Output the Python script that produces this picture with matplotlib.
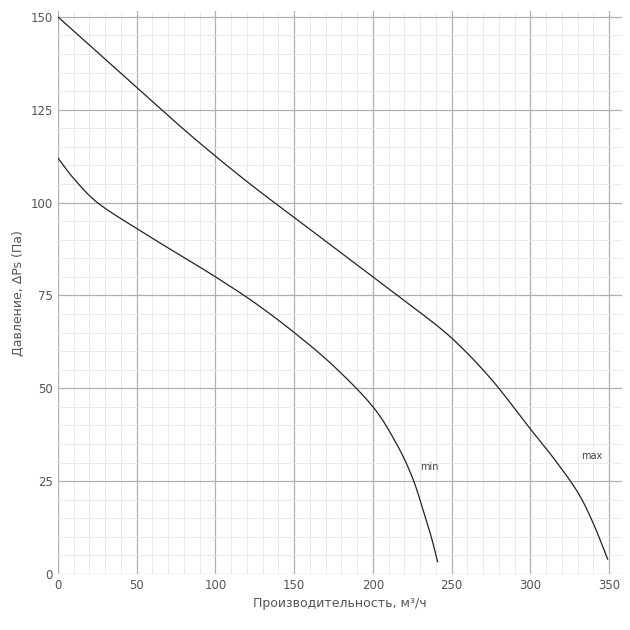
import matplotlib
matplotlib.use("Agg")
import matplotlib.pyplot as plt
from matplotlib.ticker import MultipleLocator
import numpy as np

max_q = [0, 25, 50, 75, 100, 125, 150, 175, 200, 225, 250, 275, 300, 315, 330, 340, 349]
max_p = [150, 140.5, 131, 121.5, 112.5, 104, 96, 88, 80, 72, 63.5, 52.5, 39, 31, 22, 13.5, 4]
min_q = [0, 10, 25, 50, 75, 100, 125, 150, 175, 200, 215, 225, 232, 237, 241]
min_p = [112, 106.5, 100, 93, 86.5, 80, 73, 65, 56, 45, 35, 26, 17, 10, 3.3]


def smooth(xs, ys, n=20):
    p = np.column_stack([xs, ys]).astype(float)
    p = np.vstack([2 * p[0] - p[1], p, 2 * p[-1] - p[-2]])
    out = []
    t = np.linspace(0, 1, n, endpoint=False)[:, None]
    for i in range(1, len(p) - 2):
        p0, p1, p2, p3 = p[i - 1], p[i], p[i + 1], p[i + 2]
        out.append(0.5 * ((2 * p1) + (-p0 + p2) * t + (2 * p0 - 5 * p1 + 4 * p2 - p3) * t ** 2
                          + (-p0 + 3 * p1 - 3 * p2 + p3) * t ** 3))
    out.append(p[-2][None, :])
    a = np.vstack(out)
    return a[:, 0], a[:, 1]


fig = plt.figure(figsize=(6.3, 6.3), dpi=100)
ax = fig.add_axes([0.092, 0.089, 0.895, 0.893])
ax.plot(*smooth(max_q, max_p), color="#222222", lw=0.9)
ax.plot(*smooth(min_q, min_p), color="#222222", lw=0.9)
ax.text(332, 31, "max", fontsize=7, color="#444444")
ax.text(230, 28, "min", fontsize=7, color="#444444")
ax.set_xlim(0, 358)
ax.set_ylim(0, 151.5)
ax.xaxis.set_major_locator(MultipleLocator(50))
ax.yaxis.set_major_locator(MultipleLocator(25))
ax.xaxis.set_minor_locator(MultipleLocator(10))
ax.yaxis.set_minor_locator(MultipleLocator(5))
ax.grid(which="major", color="#b0b0b0", lw=0.9)
ax.grid(which="minor", color="#e8e8e8", lw=0.6)
ax.set_axisbelow(True)
for s in ax.spines.values():
    s.set_visible(False)
ax.tick_params(which="both", length=0, labelsize=8.5, labelcolor="#555555")
ax.set_xlabel("Производительность, м³/ч", fontsize=9, color="#555555")
ax.set_ylabel("Давление, ΔPs (Па)", fontsize=9, color="#555555")
fig.savefig("out.png", dpi=100)
